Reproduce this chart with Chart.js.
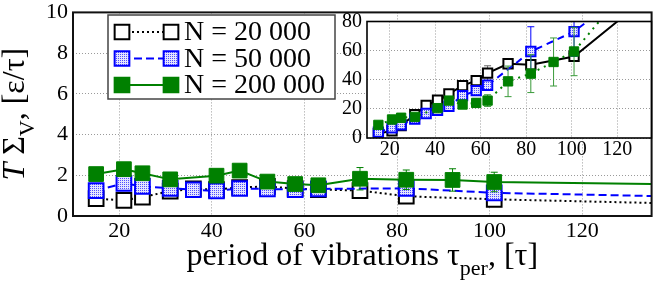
<!DOCTYPE html>
<html lang="en">
<head>
  <meta charset="UTF-8">
  <title>Viscous dissipation vs period of vibrations</title>
  <script src="https://cdn.jsdelivr.net/npm/chart.js@4.4.0/dist/chart.umd.min.js"></script>
  <style>
    body { margin: 0; background: #fff; }
    #wrap { position: relative; width: 664px; height: 287px; }
    #main { position: absolute; left: 0; top: 0; }
    #inset { position: absolute; left: 330px; top: 12px; }
  </style>
</head>
<body>
  <div id="wrap">
    <canvas id="main" width="664" height="287"></canvas>
    <canvas id="inset" width="330" height="152"></canvas>
  </div>
  <script>
    const FONT = "'Liberation Serif', 'DejaVu Serif', serif";

    // ticks
    const xMainTicks = [20, 40, 60, 80, 100, 120];
    const yMainTicks = [0, 2, 4, 6, 8, 10];
    const xInsetTicks = [20, 40, 60, 80, 100, 120];
    const yInsetTicks = [0, 20, 40, 60, 80];

    const seriesLabels = ['N = 20 000', 'N = 50 000', 'N = 200 000'];

    // N = 20 000
    const x20k = [15, 21, 25, 31, 36, 41, 46, 52, 58, 63, 72, 82, 101];
    const main20k = [0.85, 0.77, 0.93, 1.22, 1.33, 1.30, 1.40, 1.45, 1.35, 1.30, 1.25, 0.97, 0.82];
    const tail20k = 0.64;
    const inset20k = [3, 5, 8.6, 16, 22.3, 25.9, 30.3, 36, 39.4, 44.6, 51, 50.3, 56];
    const insetErr20k = [0, 0, 0, 0, 0, 0, 0, 0, 3, 5, 0, 0, 0];
    const insetTail20k = [120, 80];

    // N = 50 000
    const x50k = [15, 21, 25, 31, 36, 41, 46, 52, 58, 63, 82, 101];
    const main50k = [1.25, 1.60, 1.46, 1.36, 1.29, 1.23, 1.35, 1.33, 1.29, 1.33, 1.36, 1.14];
    const tail50k = 0.98;
    const inset50k = [4, 7, 9, 13, 16.8, 19, 21.8, 29.1, 32.5, 36.2, 59.4, 73.1];
    const insetErr50k = [0, 0, 0, 0, 0, 0, 0, 0, 0, 0, 17, 17];
    const insetTail50k = [106, 79];

    // N = 200 000
    const x200k = [15, 21, 25, 31, 41, 46, 52, 58, 63, 72, 82, 92, 101];
    const main200k = [2.06, 2.30, 2.10, 1.80, 1.98, 2.23, 1.69, 1.57, 1.51, 1.83, 1.78, 1.77, 1.67];
    const mainErr200k = [0, 0, 0, 0, 0, 0, 0, 0, 0, 0.55, 0.48, 0.55, 0.48];
    const tail200k = 1.57;
    const inset200k = [9, 12.7, 13.9, 14.5, 20.5, 25.7, 23, 24.1, 25.7, 38.9, 44.2, 52.2, 59.4];
    const insetErr200k = [0, 0, 0, 0, 0, 0, 0, 3, 4, 10.5, 13, 16.5, 16.6];
    const insetTail200k = [112, 80];

    const pts = (xs, ys) => xs.map((x, i) => ({ x, y: ys[i] }));

    function dotPattern() {
      const c = document.createElement('canvas');
      c.width = 2; c.height = 2;
      const g = c.getContext('2d');
      g.fillStyle = '#e4e4ff';
      g.fillRect(0, 0, 2, 2);
      g.fillStyle = '#5050ff';
      g.fillRect(0, 0, 1, 1);
      return g.createPattern(c, 'repeat');
    }
    const bluePat = dotPattern();

    const K = { color: '#000000', fill: '#ffffff', bw: 2 };
    const B = { color: '#0000ff', fill: bluePat, bw: 2 };
    const G = { color: '#008000', fill: '#008000', bw: 1 };

    function markerSet(xs, ys, st, r, errs, errColor) {
      return {
        data: pts(xs, ys), showLine: false, pointStyle: 'rect',
        pointRadius: r, pointHoverRadius: r,
        pointBackgroundColor: st.fill, pointBorderColor: st.color, pointBorderWidth: st.bw,
        errs: errs, errColor: errColor
      };
    }
    function lineSet(data, color, dash) {
      return { data, borderColor: color, borderWidth: 2, borderDash: dash, pointRadius: 0, fill: false, tension: 0 };
    }

    // error bars, drawn just under their own markers
    const errPlugin = {
      id: 'errs',
      beforeDatasetDraw(chart, args) {
        const ds = chart.data.datasets[args.index];
        if (!ds.errs) return;
        const ctx = chart.ctx, ys = chart.scales.y, a = chart.chartArea;
        ctx.save();
        ctx.beginPath(); ctx.rect(a.left, a.top, a.right - a.left, a.bottom - a.top); ctx.clip();
        ctx.strokeStyle = ds.errColor; ctx.lineWidth = 1;
        args.meta.data.forEach((p, i) => {
          const e = ds.errs[i];
          if (!e) return;
          const v = ds.data[i].y;
          const y1 = ys.getPixelForValue(v + e), y2 = ys.getPixelForValue(v - e);
          ctx.beginPath();
          ctx.moveTo(p.x, y1); ctx.lineTo(p.x, y2);
          ctx.moveTo(p.x - 3.5, y1); ctx.lineTo(p.x + 3.5, y1);
          ctx.moveTo(p.x - 3.5, y2); ctx.lineTo(p.x + 3.5, y2);
          ctx.stroke();
        });
        ctx.restore();
      }
    };

    function drawRich(ctx, parts, x, y, size) {
      const fonts = parts.map(p => (p[1] === 'i' ? 'italic ' : '') + (p[1] === 'sub' ? Math.round(size * 0.68) : size) + 'px ' + FONT);
      const widths = parts.map((p, i) => { ctx.font = fonts[i]; return ctx.measureText(p[0]).width; });
      let cx = x - widths.reduce((s, w) => s + w, 0) / 2;
      ctx.textAlign = 'left'; ctx.textBaseline = 'alphabetic'; ctx.fillStyle = '#000';
      parts.forEach((p, i) => {
        ctx.font = fonts[i];
        ctx.fillText(p[0], cx, y + (p[1] === 'sub' ? size * 0.3 : 0));
        cx += widths[i];
      });
    }

    const mainDecor = {
      id: 'mainDecor',
      afterDraw(chart) {
        const ctx = chart.ctx, a = chart.chartArea;
        ctx.save();
        ctx.strokeStyle = '#111'; ctx.lineWidth = 2;
        ctx.strokeRect(a.left, a.top, a.right - a.left, a.bottom - a.top);

        // legend
        ctx.fillStyle = '#fff'; ctx.fillRect(108, 15, 227, 84);
        ctx.strokeStyle = '#444'; ctx.lineWidth = 1.5; ctx.strokeRect(108, 15, 227, 84);
        const rows = [[K, [2, 3]], [B, [8, 4]], [G, []]];
        rows.forEach((row, i) => {
          const st = row[0], y = 32 + i * 26.5;
          ctx.strokeStyle = st.color; ctx.lineWidth = 2; ctx.setLineDash(row[1]);
          ctx.beginPath(); ctx.moveTo(122, y); ctx.lineTo(171, y); ctx.stroke();
          ctx.setLineDash([]);
          [122, 171].forEach(px => {
            ctx.fillStyle = st.fill; ctx.strokeStyle = st.color;
            Chart.helpers.drawPoint(ctx, { pointStyle: 'rect', radius: 10.4, borderWidth: st.bw }, px, y);
          });
          ctx.fillStyle = '#000'; ctx.font = '28px ' + FONT;
          ctx.textAlign = 'left'; ctx.textBaseline = 'middle';
          ctx.fillText(seriesLabels[i], 184, y + 1);
        });

        // axis titles
        drawRich(ctx, [['period of vibrations τ', ''], ['per', 'sub'], [', [τ]', '']], (a.left + a.right) / 2, 265, 32);
        ctx.translate(24, (a.top + a.bottom) / 2);
        ctx.rotate(-Math.PI / 2);
        drawRich(ctx, [['T', 'i'], [' Σ', ''], ['V', 'sub'], [', [ε/τ]', '']], 0, 0, 32);
        ctx.restore();
      }
    };

    const insetDecor = {
      id: 'insetDecor',
      beforeDraw(chart) {
        const ctx = chart.ctx, a = chart.chartArea;
        ctx.save(); ctx.fillStyle = '#fff';
        ctx.fillRect(a.left, a.top, a.right - a.left, a.bottom - a.top);
        ctx.restore();
      },
      afterDraw(chart) {
        const ctx = chart.ctx, a = chart.chartArea;
        ctx.save(); ctx.strokeStyle = '#000'; ctx.lineWidth = 1.6;
        ctx.strokeRect(a.left, a.top, a.right - a.left, a.bottom - a.top);
        ctx.restore();
      }
    };

    function axes(xMin, xMax, xt, yMin, yMax, yt, fontSize, yWidth, xHeight, xPad) {
      const grid = { color: '#9a9a9a', lineWidth: 1, drawTicks: false };
      const border = { display: false, dash: [1, 2] };
      const ticks = { font: { family: FONT, size: fontSize }, color: '#000', autoSkip: false, maxRotation: 0 };
      return {
        x: {
          type: 'linear', min: xMin, max: xMax, grid, border,
          ticks: Object.assign({ padding: xPad }, ticks),
          afterBuildTicks: s => { s.ticks = xt.map(v => ({ value: v })); },
          afterFit: s => { s.height = xHeight; s.paddingLeft = 0; s.paddingRight = 0; }
        },
        y: {
          type: 'linear', min: yMin, max: yMax, grid, border,
          ticks: Object.assign({ padding: 5 }, ticks),
          afterBuildTicks: s => { s.ticks = yt.map(v => ({ value: v })); },
          afterFit: s => { s.width = yWidth; s.paddingTop = 0; s.paddingBottom = 0; }
        }
      };
    }

    new Chart(document.getElementById('main'), {
      type: 'line',
      data: {
        datasets: [
          markerSet(x200k, main200k, G, 10.4, mainErr200k, '#008000'),
          lineSet(pts(x200k, main200k).concat([{ x: 135, y: tail200k }]), G.color, []),
          markerSet(x50k, main50k, B, 10.4),
          lineSet(pts(x50k, main50k).concat([{ x: 135, y: tail50k }]), B.color, [8, 4]),
          markerSet(x20k, main20k, K, 10.4),
          lineSet(pts(x20k, main20k).concat([{ x: 135, y: tail20k }]), K.color, [2, 3])
        ]
      },
      options: {
        responsive: false, animation: false,
        layout: { padding: { top: 9, right: 2, left: 0, bottom: 0 } },
        plugins: { legend: { display: false }, tooltip: { enabled: false } },
        scales: axes(10, 135, xMainTicks, 0, 10, yMainTicks, 22, 73, 71, 2)
      },
      plugins: [errPlugin, mainDecor]
    });

    new Chart(document.getElementById('inset'), {
      type: 'line',
      data: {
        datasets: [
          markerSet(x200k, inset200k, G, 6.6, insetErr200k, '#3a9a3a'),
          lineSet(pts(x200k, inset200k).concat([{ x: insetTail200k[0], y: insetTail200k[1] }]), G.color, [2, 5]),
          markerSet(x50k, inset50k, B, 6.6, insetErr50k, '#0000ff'),
          lineSet(pts(x50k, inset50k).concat([{ x: insetTail50k[0], y: insetTail50k[1] }]), B.color, [7, 5]),
          markerSet(x20k, inset20k, K, 6.6, insetErr20k, '#666'),
          lineSet(pts(x20k, inset20k).concat([{ x: insetTail20k[0], y: insetTail20k[1] }]), K.color, [])
        ]
      },
      options: {
        responsive: false, animation: false,
        layout: { padding: { top: 9.5, right: 5, left: 0, bottom: 0 } },
        plugins: { legend: { display: false }, tooltip: { enabled: false } },
        scales: axes(10, 135, xInsetTicks, 0, 80, yInsetTicks, 20, 37, 26, 0)
      },
      plugins: [errPlugin, insetDecor]
    });
  </script>
</body>
</html>
